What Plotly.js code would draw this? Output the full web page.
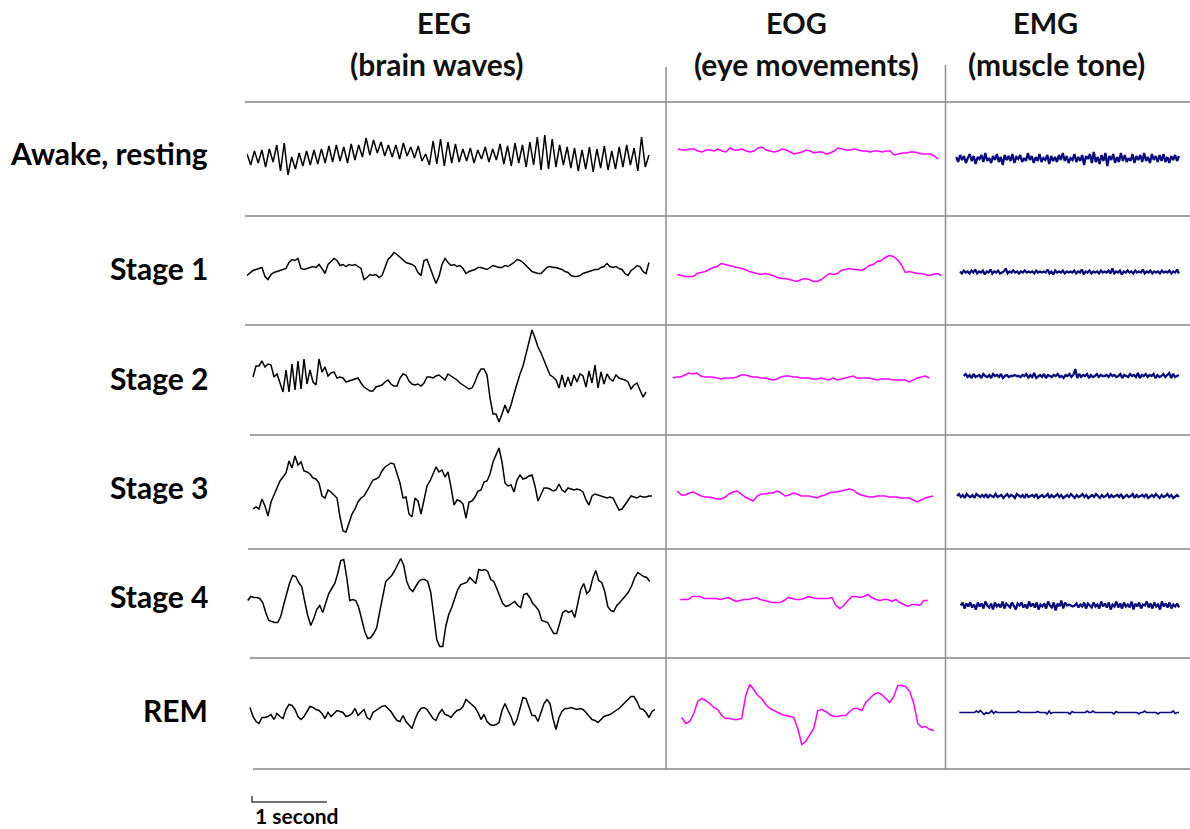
<!DOCTYPE html>
<html>
<head>
<meta charset="utf-8">
<script src="https://cdn.plot.ly/plotly-3.0.1.min.js"></script>
<style>
  html, body { margin: 0; padding: 0; background: #fff; }
  #chart { width: 1190px; height: 829px; }
</style>
</head>
<body>
<div id="chart"></div>
<script>
// Sleep stages (rows) and recorded channels (columns)
const stages = ['Awake, resting', 'Stage 1', 'Stage 2', 'Stage 3', 'Stage 4', 'REM'];
const channels = ['EEG', 'EOG', 'EMG'];
const channelNotes = ['(brain waves)', '(eye movements)', '(muscle tone)'];
const scaleLabel = '1 second';

// EEG samples (relative amplitude)
const eegAwake = [5,-6,8,-4,9,-8,10,-3,14,-12,16,-16,2,-10,6,-7,8,-6,9,-5,10,-4,13,-3,14,-2,12,-4,15,-1,14,2,21,4,19,6,17,3,14,2,14,0,16,3,12,1,13,-2,5,-6,18,-5,20,-7,17,-4,15,-3,10,-2,11,-4,9,0,12,-3,10,-1,15,-5,13,-7,16,-4,14,-8,17,-6,22,-11,24,-10,20,-8,14,-6,12,-9,11,-12,9,-10,12,-13,10,-9,13,-11,8,-10,12,-8,14,-6,11,-12,22,-8,4];
const eegStage1 = [-5,-2,0,1,2,3,-6,-9,-4,-2,-1,0,1,2,8,11,10,12,2,1,2,3,4,3,6,2,-3,6,9,12,10,5,6,4,6,5,6,4,2,-9,-7,-4,-5,-4,-7,-5,3,11,14,18,16,13,10,8,7,6,4,-2,-5,10,11,2,-5,-13,-6,6,12,8,5,6,4,5,2,-3,-1,0,1,3,3,2,1,3,5,4,3,3,5,4,6,8,11,10,8,5,2,-1,-2,-3,-3,0,3,4,3,3,2,1,-1,-2,-5,-6,-6,-5,-3,-2,-1,0,1,1,3,4,7,4,3,4,2,1,-3,-5,0,2,5,4,-1,-3,8];
const eegStage2 = [3,14,14,19,13,16,15,3,6,-3,-12,10,-12,16,-10,19,-9,21,-4,10,-2,-5,21,8,13,4,7,8,2,3,2,-2,-1,0,1,2,-3,-7,-9,-11,-11,-7,-6,-5,-2,0,-4,-6,-6,2,6,5,-1,-4,-5,-4,-6,-3,3,3,2,4,5,2,0,6,4,2,0,-3,-5,-7,-9,-8,-2,6,11,11,5,-18,-34,-34,-42,-34,-25,-33,-25,-14,-3,6,14,26,38,50,42,33,27,20,12,5,3,0,-8,5,-7,3,-6,5,-2,6,4,-7,9,-3,15,-8,8,-4,6,1,-1,5,2,1,0,-2,-9,-5,-3,-10,-17,-12];
const eegStage3 = [-17,-15,-17,-7,-14,-24,-10,-3,5,11,15,19,31,24,36,27,30,21,20,18,14,13,9,-4,-6,2,0,-3,-6,-25,-39,-40,-32,-22,-17,-10,-6,-4,1,6,12,13,15,21,25,27,29,28,18,9,-6,-5,-22,-25,-6,-9,-22,-7,6,11,19,25,20,22,15,20,5,-13,-8,-9,-12,-26,-10,-9,-5,1,2,10,11,18,30,38,44,30,9,6,7,0,12,17,13,14,16,17,6,-9,-3,4,4,3,1,2,8,2,0,4,3,2,3,2,0,-8,-13,-4,-2,-3,-4,-5,-6,-5,-6,-12,-18,-17,-13,-8,-4,-5,-6,-4,-5,-5,-4,-4];
const eegStage4 = [3,7,6,6,5,1,-9,-17,-18,-19,-19,-13,-1,10,21,28,27,21,17,2,-12,-22,-15,-6,-2,-9,1,10,15,20,30,43,44,26,3,4,3,-4,-16,-28,-35,-34,-30,-24,-8,8,22,25,28,33,39,45,38,22,15,12,17,22,24,24,22,11,-12,-36,-43,-43,-23,-11,-4,6,14,19,20,21,26,23,20,34,33,34,32,24,22,15,7,0,-3,-2,0,2,-2,-4,9,10,6,0,-3,-7,-17,-18,-19,-25,-30,-30,-20,-9,-7,-9,-7,-14,0,14,20,10,13,25,33,23,21,12,-3,-7,-8,-2,1,4,8,12,18,26,31,29,27,26,22];
const eegREM = [6,-3,-8,-10,-4,-4,-3,-1,-6,0,-3,-5,4,9,8,4,-3,-6,-3,2,7,6,4,3,0,-5,1,-3,0,3,2,1,-3,-2,0,5,-2,1,4,-4,-6,1,3,5,7,8,5,2,-3,-7,-8,-2,-8,-12,-15,-6,1,5,6,4,-1,-5,-7,0,4,-1,-2,-4,0,3,4,7,14,11,9,6,1,-6,-1,-8,-11,-12,-11,-9,3,10,3,-3,-12,-6,5,16,15,6,-2,-2,-8,1,10,14,10,-5,-16,-4,2,5,5,6,5,4,5,4,1,-3,-6,-7,-9,-6,-3,-2,-1,1,3,5,8,11,14,17,17,12,5,4,1,-4,2,4];

// EOG samples
const eogAwake = [10,9,9,10,10,8,7,9,9,8,10,8,7,11,9,9,10,8,7,8,11,12,9,8,7,8,10,9,7,5,6,7,9,8,6,7,7,5,6,8,11,10,9,9,10,9,8,8,7,8,8,7,8,8,4,5,6,6,7,7,6,5,5,5,3,0];
const eogStage1 = [-4,-5,-6,-6,-6,-3,-2,-1,1,3,4,7,6,5,4,3,2,1,-1,-2,-3,-4,-3,-4,-5,-7,-8,-8,-9,-10,-11,-9,-8,-9,-11,-11,-9,-6,-3,-4,-3,0,1,2,1,1,0,2,5,6,9,10,13,15,14,11,6,-2,-1,-2,-3,-3,-4,-5,-4,-3,-5];
const eogStage2 = [2,3,3,5,7,6,7,4,3,3,3,2,1,2,2,2,3,5,5,4,3,3,2,2,1,0,1,3,4,4,3,3,2,2,2,1,1,2,1,0,2,0,1,2,3,4,2,2,2,2,1,0,1,1,1,0,0,0,0,-2,0,2,3,4,2];
const eogStage3 = [1,-3,-3,-1,0,-2,-4,-5,-5,-6,-7,-7,-5,-2,0,1,-2,-5,-7,-9,-4,-2,-2,-1,-1,1,-1,-4,-3,-1,-2,-4,-4,-4,-5,-6,-4,-3,-1,0,0,1,2,3,2,-1,-3,-4,-5,-5,-4,-4,-4,-5,-5,-5,-6,-6,-6,-8,-10,-8,-6,-5,-4];
const eogStage4 = [4,4,4,7,7,7,5,5,5,5,4,5,6,4,2,3,4,4,5,6,4,3,2,1,1,1,3,6,5,4,4,5,7,6,5,5,5,5,6,-2,-5,-2,3,7,7,6,7,9,6,4,3,4,4,2,4,1,-1,-3,-1,-1,-2,3,3];
const eogREM = [-4,-10,-8,0,12,15,13,10,6,4,-2,-5,-5,-6,-6,-5,18,29,24,18,15,9,5,3,1,-1,-2,-3,-4,-15,-31,-28,-22,-15,3,4,2,-1,-3,-3,-2,-2,2,5,5,3,11,15,19,21,19,15,11,17,28,28,27,22,10,-10,-14,-13,-16,-17];

// EMG samples
const emgAwake = [2,-3,4,-1,3,-4,1,5,-2,3,-5,2,0,4,-3,6,-2,1,-4,3,-1,5,-3,2,-6,4,-1,3,-2,5,-4,2,0,4,-3,1,-2,6,-1,3,-4,2,-2,5,-3,1,-1,4,-5,3,-2,2,-3,4,-1,6,-2,3,-4,1,-1,5,-3,2,-2,4,-6,3,0,5,-4,7,-3,2,-5,4,-2,6,-7,3,-1,5,-4,2,-3,6,-2,4,-3,1,-2,5,-4,3,-1,4,-3,6,-2,2,-4,5,-1,3,-3,4,-2,5,-3,2,-4,3,-1,4,-2,3];
const emgStage1 = [-1,-3,0,-2,-1,-3,0,-2,1,-3,-1,-2,0,-4,-1,-2,1,-3,-1,-2,0,-3,-2,-1,2,-3,-1,-2,0,-2,-1,-3,-1,-2,0,-2,-1,-2,-1,-3,0,-2,-1,-2,-1,-2,1,-3,-1,-4,0,-2,-1,-2,0,-3,-1,-2,-1,-2,0,-3,-1,-2,1,-4,-1,-2,0,-3,-1,-2,-1,-3,0,-2,-1,-2,0,-3,2,-3,-1,-2,0,-4,-1,-2,0,-2,-1,-3,0,-2,-1,-2,1,-3,-1,-2,0,-3,-1,-2,-1,-3,0,-2,-1,-2,0,-3,-1,-2,1,-3];
const emgStage2 = [4,6,3,5,2,6,3,4,5,2,6,4,3,5,2,6,4,5,3,6,2,4,5,3,4,4,5,4,4,3,5,4,6,2,5,3,7,2,4,5,3,6,2,5,4,3,5,4,6,3,4,2,5,4,6,3,5,11,2,6,3,5,4,6,2,5,3,4,6,3,5,4,4,5,3,6,4,5,3,4,6,2,5,4,3,6,4,5,3,7,2,5,4,6,3,5,4,6,2,5,3,4,6,3,5,7,2,6,3,4,5];
const emgStage3 = [-4,-2,-5,-3,-6,-2,-4,-5,-3,-6,-2,-4,-5,-3,-5,-2,-6,-3,-4,-5,-2,-5,-4,-3,-6,-4,-2,-5,-3,-4,-6,-2,-4,-5,-3,-6,-2,-5,-4,-3,-5,-2,-6,-4,-3,-5,-4,-2,-6,-3,-5,-4,-2,-5,-3,-6,-4,-3,-5,-2,-4,-6,-3,-5,-4,-2,-5,-3,-6,-4,-3,-5,-2,-4,-6,-3,-5,-4,-2,-6,-3,-5,-4,-3,-5,-2,-6,-4,-3,-5,-4,-2,-6,-3,-5,-4,-3,-5,-2,-6,-4,-3,-5,-2,-4,-6,-3,-5,-4,-2,-5,-3,-6,-4,-3,-5];
const emgStage4 = [-2,1,-5,0,-3,1,-4,-1,-6,1,-3,0,-5,2,-2,-4,0,-6,1,-3,-1,-4,2,-5,0,-2,-4,1,-3,-6,0,-2,1,-4,-1,-5,2,-3,0,-4,1,-6,-1,-3,0,-5,2,-2,-4,1,-7,0,-3,3,-5,1,-2,-1,-2,-3,-2,0,-4,-1,-3,1,-5,0,-2,-4,1,-3,-1,-5,2,-3,0,-4,1,-6,-1,-3,2,-4,0,-5,1,-3,-1,-4,2,-6,0,-3,1,-5,-1,-2,2,-4,0,-5,1,-3,-1,-6,2,-3,0,-4,1,-5,-1,-3,0,-4];
const emgREM = [1,1,1,1,1,1,1,1,1,2.5,1,3,1,-1,1,0,1,3,0,2,1,1,1,1,1,1,1,1,1,1,1,2.5,1,1,1,1,1,1,1,1,1,2,1,1,1,1,-0.5,2.5,0,1,1,1,1,1,1,1,1,1,-0.5,2,1,1,1,1,1,1,1,2.5,1,1,2.5,1,1,1,1,1,1,1,1,1,1,-0.5,2,1,1,1,1,1,1,1,1,1,1,1,-0.5,1,1,2.5,1,1,1,1,1,1,-0.5,1,1,1,1,1,1,1,2.5,0,1,1];

const signals = [
  [eegAwake, eegStage1, eegStage2, eegStage3, eegStage4, eegREM],
  [eogAwake, eogStage1, eogStage2, eogStage3, eogStage4, eogREM],
  [emgAwake, emgStage1, emgStage2, emgStage3, emgStage4, emgREM]
];

// Recording window of each trace, seconds from the column's left edge [start, end]
const spans = [
  [[0, 5.36], [0, 5.36], [0.08, 5.32], [0.08, 5.40], [0.01, 5.37], [0.04, 5.44]],
  [[0.16, 3.63], [0.15, 3.67], [0.09, 3.51], [0.15, 3.56], [0.19, 3.49], [0.21, 3.57]],
  [[0.15, 3.12], [0.20, 3.12], [0.25, 3.12], [0.16, 3.12], [0.21, 3.12], [0.19, 3.12]]
];

// ---- page geometry (pixels) ----
const W = 1190, H = 829;
const PX_PER_SEC = 75;
const colEdges = [[247, 660], [666, 945], [945, 1190]];
const rowEdges = [102, 216, 325, 435, 549, 658, 769];
const colors = ['#000000', '#ff00ff', '#0b0b7e'];
const lineWidths = [1.5, 1.5, 2.3];
const px = x => x / W;
const py = y => 1 - y / H;

function sampleTimes(n, span) {
  const step = (span[1] - span[0]) / (n - 1);
  return Array.from({ length: n }, (_, i) => span[0] + i * step);
}

const axName = (prefix, k) => prefix + (k === 0 ? '' : String(k + 1));

const traces = [];
for (let c = 0; c < 3; c++) {
  for (let r = 0; r < 6; r++) {
    const y = signals[c][r];
    // the REM muscle trace is nearly flat, so it is drawn thinner
    const w = (c === 2 && r === 5) ? 1.6 : lineWidths[c];
    traces.push({
      type: 'scatter',
      mode: 'lines',
      x: sampleTimes(y.length, spans[c][r]),
      y: y,
      xaxis: axName('x', c),
      yaxis: axName('y', r),
      line: { color: colors[c], width: w },
      hoverinfo: 'skip',
      name: channels[c] + ' ' + stages[r]
    });
  }
}

const layout = {
  width: W, height: H,
  margin: { l: 0, r: 0, t: 0, b: 0, pad: 0 },
  paper_bgcolor: '#ffffff',
  plot_bgcolor: 'rgba(0,0,0,0)',
  showlegend: false,
  shapes: [],
  annotations: []
};

colEdges.forEach((e, c) => {
  layout[axName('xaxis', c)] = {
    domain: [px(e[0]), px(e[1])],
    range: [0, (e[1] - e[0]) / PX_PER_SEC],
    visible: false, fixedrange: true, anchor: 'free'
  };
});
for (let r = 0; r < 6; r++) {
  const top = rowEdges[r], bot = rowEdges[r + 1];
  const half = (bot - top) / 2;
  layout[axName('yaxis', r)] = {
    domain: [py(bot), py(top)],
    range: [-half, half],
    visible: false, fixedrange: true, anchor: 'free'
  };
}

// grid separating stages and channels
const gridStarts = [245, 245, 245, 250, 248, 250, 253];
rowEdges.forEach((y, i) => {
  layout.shapes.push({
    type: 'line', xref: 'paper', yref: 'paper',
    x0: px(gridStarts[i]), x1: 1, y0: py(y), y1: py(y),
    line: { color: '#a3a3a3', width: 2 }
  });
});
[[666, 67], [945.5, 65]].forEach(([x, yTop]) => {
  layout.shapes.push({
    type: 'line', xref: 'paper', yref: 'paper',
    x0: px(x), x1: px(x), y0: py(yTop), y1: py(770),
    line: { color: '#8f8f8f', width: 1.5 }
  });
});

// one-second scale bar on the EEG time axis
const barStart = 5 / PX_PER_SEC;
layout.shapes.push({
  type: 'path', xref: 'x', yref: 'paper',
  path: `M ${barStart},${py(796)} L ${barStart},${py(802)} L ${barStart + 1},${py(802)}`,
  line: { color: '#444444', width: 1.5 }
});

const fontFamily = 'Lato, "Open Sans", sans-serif';
const headerX = [[444, 437], [797, 806], [1045, 1056]];
channels.forEach((name, c) => {
  layout.annotations.push({
    text: '<b>' + name + '</b>', xref: 'paper', yref: 'paper',
    x: px(headerX[c][0]), y: py(23), xanchor: 'center', yanchor: 'middle',
    showarrow: false, font: { family: fontFamily, size: 29, color: '#111' }
  });
  layout.annotations.push({
    text: '<b>' + channelNotes[c] + '</b>', xref: 'paper', yref: 'paper',
    x: px(headerX[c][1]), y: py(64), xanchor: 'center', yanchor: 'middle',
    showarrow: false, font: { family: fontFamily, size: 30, color: '#111' }
  });
});

const labelY = [153, 268, 378, 487, 596, 710];
stages.forEach((s, r) => {
  layout.annotations.push({
    text: '<b>' + s + '</b>', xref: 'paper', yref: 'paper',
    x: px(210), y: py(labelY[r]), xanchor: 'right', yanchor: 'middle',
    showarrow: false, font: { family: fontFamily, size: 30, color: '#000' }
  });
});

layout.annotations.push({
  text: '<b>' + scaleLabel + '</b>', xref: 'paper', yref: 'paper',
  x: px(253), y: py(815), xanchor: 'left', yanchor: 'middle',
  showarrow: false, font: { family: fontFamily, size: 21, color: '#000' }
});

Plotly.newPlot('chart', traces, layout, { staticPlot: true, displayModeBar: false });
</script>
</body>
</html>
